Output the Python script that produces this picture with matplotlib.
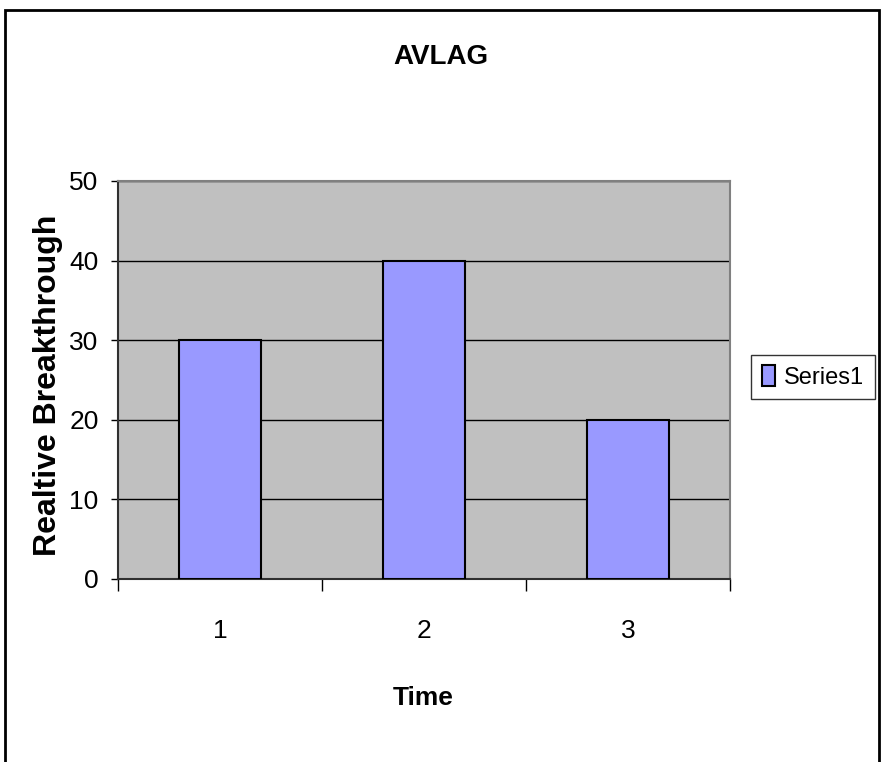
import matplotlib
matplotlib.use("Agg")
import matplotlib.pyplot as plt
from matplotlib.patches import Rectangle
from matplotlib.ticker import FixedLocator

# data
categories = ["1", "2", "3"]
values = [30, 40, 20]
series_name = "Series1"
y_ticks = [0, 10, 20, 30, 40, 50]

plt.rcParams['font.family'] = ['Liberation Sans', 'DejaVu Sans']

fig = plt.figure(figsize=(8.82, 7.62), dpi=100)
ax = fig.add_axes([118/882, 1 - 579/762, 612/882, 398/762])

x = list(range(1, len(categories) + 1))

ax.set_facecolor('#C0C0C0')
ax.bar(x, values, width=0.4, color='#9999FF', edgecolor='black',
       linewidth=1.5, label=series_name, zorder=3)

ax.set_xlim(0.5, len(categories) + 0.5)
ax.set_ylim(0, 50)

# grid
ax.yaxis.set_major_locator(FixedLocator(y_ticks))
ax.grid(axis='y', color='black', linewidth=1, zorder=1)
ax.set_axisbelow(True)

# x ticks at category borders, labels in the middle
ax.xaxis.set_major_locator(FixedLocator([i + 0.5 for i in range(len(categories) + 1)]))
ax.xaxis.set_minor_locator(FixedLocator(x))
ax.set_xticklabels([])
ax.set_xticklabels(categories, minor=True)
ax.tick_params(axis='x', which='major', direction='out', length=8.5, width=1, color='black')
ax.tick_params(axis='x', which='minor', length=0, pad=29, labelsize=19)
ax.tick_params(axis='y', direction='out', length=5, width=1, pad=9, labelsize=19)

for side in ['top', 'right']:
    ax.spines[side].set_color('#808080')
    ax.spines[side].set_linewidth(1.5)
for side in ['left', 'bottom']:
    ax.spines[side].set_color('#303030')
    ax.spines[side].set_linewidth(1.5)

# texts
fig.text(441/882, 1 - 57/762, 'AVLAG', ha='center', va='center',
         fontsize=20, fontweight='bold')
fig.text(423/882, 1 - 698/762, 'Time', ha='center', va='center',
         fontsize=19, fontweight='bold')
fig.text(48/882, 1 - 385/762, 'Realtive Breakthrough', ha='center', va='center',
         rotation=90, fontsize=23, fontweight='bold')

# legend
leg = ax.legend(loc='center left', bbox_to_anchor=(751/882, 1 - 377/762),
                bbox_transform=fig.transFigure, fontsize=17, frameon=True,
                fancybox=False, shadow=False, handlelength=0.55, handleheight=0.95,
                handletextpad=0.4, borderpad=0.45, borderaxespad=0)
leg.get_frame().set_edgecolor('black')
leg.get_frame().set_linewidth(1)

# chart area border
fig.patches.append(Rectangle((4.5/882, -0.05), (879 - 4.5)/882, 1.05 - 9.5/762,
                             transform=fig.transFigure, fill=False,
                             edgecolor='black', linewidth=2, clip_on=False))

fig.savefig('out.png', dpi=100)
